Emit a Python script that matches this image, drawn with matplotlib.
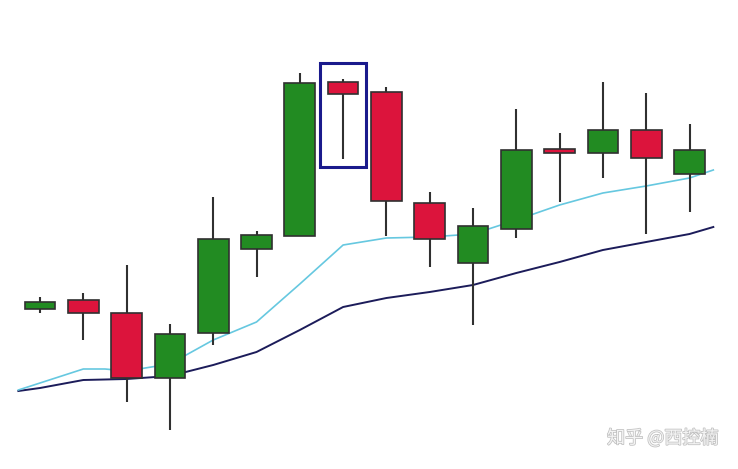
import matplotlib
matplotlib.use("Agg")
import matplotlib.pyplot as plt
from matplotlib.patches import Rectangle
import matplotlib.patheffects as pe

# ---- data (arbitrary price units) ----
opens  = [16.0, 16.9, 15.6,  9.1, 13.6, 22.0, 23.3, 38.7, 37.7, 26.6, 20.6, 24.0, 32.0, 31.6, 33.9, 29.5]
closes = [16.7, 15.6,  9.1, 13.5, 23.0, 23.4, 38.6, 37.5, 26.8, 23.0, 24.3, 31.9, 31.6, 33.9, 31.1, 31.9]
highs  = [17.2, 17.6, 20.4, 14.5, 27.2, 23.8, 39.6, 39.0, 38.2, 27.7, 26.1, 36.0, 33.6, 38.7, 37.6, 34.5]
lows   = [15.6, 12.9,  6.7,  3.9, 12.4, 19.2, 23.3, 31.0, 23.3, 20.2, 14.4, 23.1, 26.7, 29.1, 23.5, 25.7]

ma_fast_x = [-0.5, 0, 1, 1.5, 2, 3, 4, 5, 6, 7, 8, 9, 10, 11, 12, 13, 14, 15, 15.55]
ma_fast   = [7.9, 8.6, 10.0, 10.0, 9.8, 10.5, 12.9, 14.7, 18.5, 22.4, 23.1, 23.2, 23.5, 24.9, 26.4, 27.6, 28.3, 29.1, 29.9]
ma_slow_x = [-0.5, 0, 1, 2, 3, 4, 5, 6, 7, 8, 9, 10, 11, 12, 13, 14, 15, 15.55]
ma_slow   = [7.8, 8.1, 8.9, 9.0, 9.3, 10.4, 11.7, 13.9, 16.2, 17.1, 17.7, 18.4, 19.6, 20.7, 21.9, 22.7, 23.5, 24.2]

highlight_index = 7
watermark = "知乎 @西控楠"

# ---- drawing ----
fig = plt.figure(figsize=(7.38, 4.69), dpi=100)
ax = fig.add_axes([0, 0, 1, 1])
ax.set_xlim(-0.924, 16.12)
ax.set_ylim(0, 46.9)
ax.axis("off")

up_color = "#228b22"
down_color = "#dc143c"
body_w = 0.71

ax.plot(ma_slow_x, ma_slow, color="#1c1c5a", lw=1.4, zorder=1)
ax.plot(ma_fast_x, ma_fast, color="#66c8e0", lw=1.2, zorder=1)

for i, (o, c, h, l) in enumerate(zip(opens, closes, highs, lows)):
    col = up_color if c >= o else down_color
    ax.plot([i, i], [l, h], color="#303030", lw=1.5, zorder=2, solid_capstyle="butt")
    bottom = min(o, c)
    ax.add_patch(Rectangle((i - body_w / 2, bottom), body_w, abs(c - o),
                           facecolor=col, edgecolor="#303030", lw=1.2, zorder=3))

hi = highlight_index
ax.add_patch(Rectangle((hi - 0.54, lows[hi] - 0.8), 1.08, highs[hi] - lows[hi] + 2.4,
                       facecolor="none", edgecolor="#1a1a8c", lw=2.2, zorder=4))

ax.text(0.973, 0.066, watermark, transform=ax.transAxes, ha="right", va="center",
        fontsize=13, color="#f4f4f4", family=["Noto Sans CJK SC", "DejaVu Sans"],
        path_effects=[pe.withStroke(linewidth=1.1, foreground="#c0c0c0")])

fig.savefig("out.png", dpi=100, facecolor="white")
